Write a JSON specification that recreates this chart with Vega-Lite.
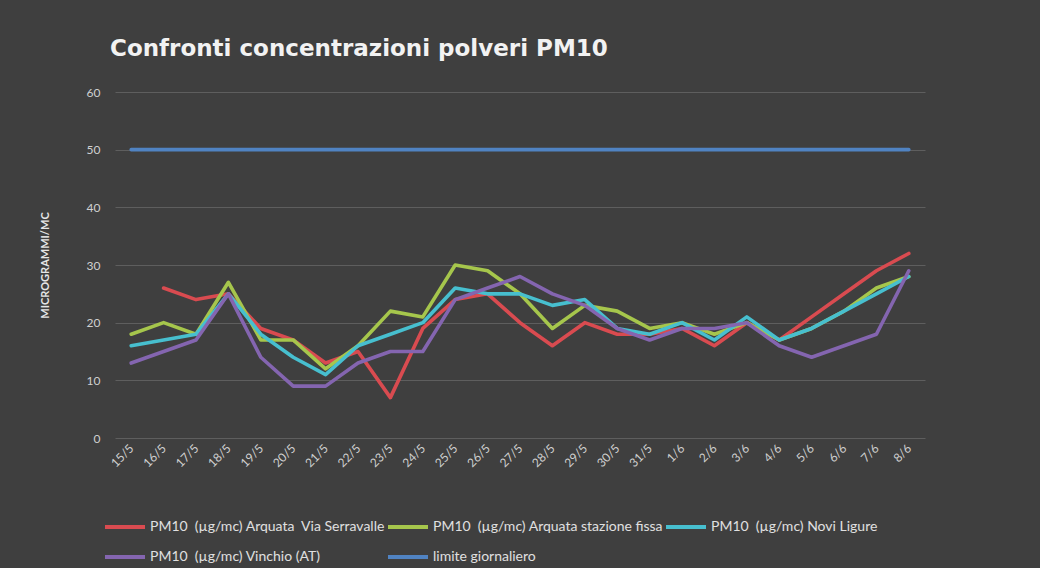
{
  "$schema": "https://vega.github.io/schema/vega-lite/v6.json",
  "autosize": {"type": "none"},
  "width": 810,
  "height": 346,
  "padding": {"left": 115, "top": 92, "right": 115, "bottom": 130},
  "background": "#3f3f3f",
  "config": {"view": {"stroke": null}},
  "title": {
    "text": "Confronti concentrazioni polveri PM10",
    "anchor": "start",
    "frame": "group",
    "dx": -5,
    "offset": 25,
    "font": "DejaVu Sans",
    "fontSize": 23,
    "fontWeight": "bold",
    "color": "#f2f2f2"
  },
  "datasets": {
    "pm": [
      {"d": "16/5", "s": "PM10\u00a0 (µg/mc) Arquata\u00a0 Via Serravalle", "v": 26},
      {"d": "17/5", "s": "PM10\u00a0 (µg/mc) Arquata\u00a0 Via Serravalle", "v": 24},
      {"d": "18/5", "s": "PM10\u00a0 (µg/mc) Arquata\u00a0 Via Serravalle", "v": 25},
      {"d": "19/5", "s": "PM10\u00a0 (µg/mc) Arquata\u00a0 Via Serravalle", "v": 19},
      {"d": "20/5", "s": "PM10\u00a0 (µg/mc) Arquata\u00a0 Via Serravalle", "v": 17},
      {"d": "21/5", "s": "PM10\u00a0 (µg/mc) Arquata\u00a0 Via Serravalle", "v": 13},
      {"d": "22/5", "s": "PM10\u00a0 (µg/mc) Arquata\u00a0 Via Serravalle", "v": 15},
      {"d": "23/5", "s": "PM10\u00a0 (µg/mc) Arquata\u00a0 Via Serravalle", "v": 7},
      {"d": "24/5", "s": "PM10\u00a0 (µg/mc) Arquata\u00a0 Via Serravalle", "v": 19},
      {"d": "25/5", "s": "PM10\u00a0 (µg/mc) Arquata\u00a0 Via Serravalle", "v": 24},
      {"d": "26/5", "s": "PM10\u00a0 (µg/mc) Arquata\u00a0 Via Serravalle", "v": 25},
      {"d": "27/5", "s": "PM10\u00a0 (µg/mc) Arquata\u00a0 Via Serravalle", "v": 20},
      {"d": "28/5", "s": "PM10\u00a0 (µg/mc) Arquata\u00a0 Via Serravalle", "v": 16},
      {"d": "29/5", "s": "PM10\u00a0 (µg/mc) Arquata\u00a0 Via Serravalle", "v": 20},
      {"d": "30/5", "s": "PM10\u00a0 (µg/mc) Arquata\u00a0 Via Serravalle", "v": 18},
      {"d": "31/5", "s": "PM10\u00a0 (µg/mc) Arquata\u00a0 Via Serravalle", "v": 18},
      {"d": "1/6", "s": "PM10\u00a0 (µg/mc) Arquata\u00a0 Via Serravalle", "v": 19},
      {"d": "2/6", "s": "PM10\u00a0 (µg/mc) Arquata\u00a0 Via Serravalle", "v": 16},
      {"d": "3/6", "s": "PM10\u00a0 (µg/mc) Arquata\u00a0 Via Serravalle", "v": 20},
      {"d": "4/6", "s": "PM10\u00a0 (µg/mc) Arquata\u00a0 Via Serravalle", "v": 17},
      {"d": "5/6", "s": "PM10\u00a0 (µg/mc) Arquata\u00a0 Via Serravalle", "v": 21},
      {"d": "6/6", "s": "PM10\u00a0 (µg/mc) Arquata\u00a0 Via Serravalle", "v": 25},
      {"d": "7/6", "s": "PM10\u00a0 (µg/mc) Arquata\u00a0 Via Serravalle", "v": 29},
      {"d": "8/6", "s": "PM10\u00a0 (µg/mc) Arquata\u00a0 Via Serravalle", "v": 32},

      {"d": "15/5", "s": "PM10\u00a0 (µg/mc) Arquata stazione fissa", "v": 18},
      {"d": "16/5", "s": "PM10\u00a0 (µg/mc) Arquata stazione fissa", "v": 20},
      {"d": "17/5", "s": "PM10\u00a0 (µg/mc) Arquata stazione fissa", "v": 18},
      {"d": "18/5", "s": "PM10\u00a0 (µg/mc) Arquata stazione fissa", "v": 27},
      {"d": "19/5", "s": "PM10\u00a0 (µg/mc) Arquata stazione fissa", "v": 17},
      {"d": "20/5", "s": "PM10\u00a0 (µg/mc) Arquata stazione fissa", "v": 17},
      {"d": "21/5", "s": "PM10\u00a0 (µg/mc) Arquata stazione fissa", "v": 12},
      {"d": "22/5", "s": "PM10\u00a0 (µg/mc) Arquata stazione fissa", "v": 16},
      {"d": "23/5", "s": "PM10\u00a0 (µg/mc) Arquata stazione fissa", "v": 22},
      {"d": "24/5", "s": "PM10\u00a0 (µg/mc) Arquata stazione fissa", "v": 21},
      {"d": "25/5", "s": "PM10\u00a0 (µg/mc) Arquata stazione fissa", "v": 30},
      {"d": "26/5", "s": "PM10\u00a0 (µg/mc) Arquata stazione fissa", "v": 29},
      {"d": "27/5", "s": "PM10\u00a0 (µg/mc) Arquata stazione fissa", "v": 25},
      {"d": "28/5", "s": "PM10\u00a0 (µg/mc) Arquata stazione fissa", "v": 19},
      {"d": "29/5", "s": "PM10\u00a0 (µg/mc) Arquata stazione fissa", "v": 23},
      {"d": "30/5", "s": "PM10\u00a0 (µg/mc) Arquata stazione fissa", "v": 22},
      {"d": "31/5", "s": "PM10\u00a0 (µg/mc) Arquata stazione fissa", "v": 19},
      {"d": "1/6", "s": "PM10\u00a0 (µg/mc) Arquata stazione fissa", "v": 20},
      {"d": "2/6", "s": "PM10\u00a0 (µg/mc) Arquata stazione fissa", "v": 18},
      {"d": "3/6", "s": "PM10\u00a0 (µg/mc) Arquata stazione fissa", "v": 20},
      {"d": "4/6", "s": "PM10\u00a0 (µg/mc) Arquata stazione fissa", "v": 17},
      {"d": "5/6", "s": "PM10\u00a0 (µg/mc) Arquata stazione fissa", "v": 19},
      {"d": "6/6", "s": "PM10\u00a0 (µg/mc) Arquata stazione fissa", "v": 22},
      {"d": "7/6", "s": "PM10\u00a0 (µg/mc) Arquata stazione fissa", "v": 26},
      {"d": "8/6", "s": "PM10\u00a0 (µg/mc) Arquata stazione fissa", "v": 28},

      {"d": "15/5", "s": "PM10\u00a0 (µg/mc) Novi Ligure", "v": 16},
      {"d": "16/5", "s": "PM10\u00a0 (µg/mc) Novi Ligure", "v": 17},
      {"d": "17/5", "s": "PM10\u00a0 (µg/mc) Novi Ligure", "v": 18},
      {"d": "18/5", "s": "PM10\u00a0 (µg/mc) Novi Ligure", "v": 25},
      {"d": "19/5", "s": "PM10\u00a0 (µg/mc) Novi Ligure", "v": 18},
      {"d": "20/5", "s": "PM10\u00a0 (µg/mc) Novi Ligure", "v": 14},
      {"d": "21/5", "s": "PM10\u00a0 (µg/mc) Novi Ligure", "v": 11},
      {"d": "22/5", "s": "PM10\u00a0 (µg/mc) Novi Ligure", "v": 16},
      {"d": "23/5", "s": "PM10\u00a0 (µg/mc) Novi Ligure", "v": 18},
      {"d": "24/5", "s": "PM10\u00a0 (µg/mc) Novi Ligure", "v": 20},
      {"d": "25/5", "s": "PM10\u00a0 (µg/mc) Novi Ligure", "v": 26},
      {"d": "26/5", "s": "PM10\u00a0 (µg/mc) Novi Ligure", "v": 25},
      {"d": "27/5", "s": "PM10\u00a0 (µg/mc) Novi Ligure", "v": 25},
      {"d": "28/5", "s": "PM10\u00a0 (µg/mc) Novi Ligure", "v": 23},
      {"d": "29/5", "s": "PM10\u00a0 (µg/mc) Novi Ligure", "v": 24},
      {"d": "30/5", "s": "PM10\u00a0 (µg/mc) Novi Ligure", "v": 19},
      {"d": "31/5", "s": "PM10\u00a0 (µg/mc) Novi Ligure", "v": 18},
      {"d": "1/6", "s": "PM10\u00a0 (µg/mc) Novi Ligure", "v": 20},
      {"d": "2/6", "s": "PM10\u00a0 (µg/mc) Novi Ligure", "v": 17},
      {"d": "3/6", "s": "PM10\u00a0 (µg/mc) Novi Ligure", "v": 21},
      {"d": "4/6", "s": "PM10\u00a0 (µg/mc) Novi Ligure", "v": 17},
      {"d": "5/6", "s": "PM10\u00a0 (µg/mc) Novi Ligure", "v": 19},
      {"d": "6/6", "s": "PM10\u00a0 (µg/mc) Novi Ligure", "v": 22},
      {"d": "7/6", "s": "PM10\u00a0 (µg/mc) Novi Ligure", "v": 25},
      {"d": "8/6", "s": "PM10\u00a0 (µg/mc) Novi Ligure", "v": 28},

      {"d": "15/5", "s": "PM10\u00a0 (µg/mc) Vinchio (AT)", "v": 13},
      {"d": "16/5", "s": "PM10\u00a0 (µg/mc) Vinchio (AT)", "v": 15},
      {"d": "17/5", "s": "PM10\u00a0 (µg/mc) Vinchio (AT)", "v": 17},
      {"d": "18/5", "s": "PM10\u00a0 (µg/mc) Vinchio (AT)", "v": 25},
      {"d": "19/5", "s": "PM10\u00a0 (µg/mc) Vinchio (AT)", "v": 14},
      {"d": "20/5", "s": "PM10\u00a0 (µg/mc) Vinchio (AT)", "v": 9},
      {"d": "21/5", "s": "PM10\u00a0 (µg/mc) Vinchio (AT)", "v": 9},
      {"d": "22/5", "s": "PM10\u00a0 (µg/mc) Vinchio (AT)", "v": 13},
      {"d": "23/5", "s": "PM10\u00a0 (µg/mc) Vinchio (AT)", "v": 15},
      {"d": "24/5", "s": "PM10\u00a0 (µg/mc) Vinchio (AT)", "v": 15},
      {"d": "25/5", "s": "PM10\u00a0 (µg/mc) Vinchio (AT)", "v": 24},
      {"d": "26/5", "s": "PM10\u00a0 (µg/mc) Vinchio (AT)", "v": 26},
      {"d": "27/5", "s": "PM10\u00a0 (µg/mc) Vinchio (AT)", "v": 28},
      {"d": "28/5", "s": "PM10\u00a0 (µg/mc) Vinchio (AT)", "v": 25},
      {"d": "29/5", "s": "PM10\u00a0 (µg/mc) Vinchio (AT)", "v": 23},
      {"d": "30/5", "s": "PM10\u00a0 (µg/mc) Vinchio (AT)", "v": 19},
      {"d": "31/5", "s": "PM10\u00a0 (µg/mc) Vinchio (AT)", "v": 17},
      {"d": "1/6", "s": "PM10\u00a0 (µg/mc) Vinchio (AT)", "v": 19},
      {"d": "2/6", "s": "PM10\u00a0 (µg/mc) Vinchio (AT)", "v": 19},
      {"d": "3/6", "s": "PM10\u00a0 (µg/mc) Vinchio (AT)", "v": 20},
      {"d": "4/6", "s": "PM10\u00a0 (µg/mc) Vinchio (AT)", "v": 16},
      {"d": "5/6", "s": "PM10\u00a0 (µg/mc) Vinchio (AT)", "v": 14},
      {"d": "6/6", "s": "PM10\u00a0 (µg/mc) Vinchio (AT)", "v": 16},
      {"d": "7/6", "s": "PM10\u00a0 (µg/mc) Vinchio (AT)", "v": 18},
      {"d": "8/6", "s": "PM10\u00a0 (µg/mc) Vinchio (AT)", "v": 29},

      {"d": "15/5", "s": "limite giornaliero", "v": 50},
      {"d": "16/5", "s": "limite giornaliero", "v": 50},
      {"d": "17/5", "s": "limite giornaliero", "v": 50},
      {"d": "18/5", "s": "limite giornaliero", "v": 50},
      {"d": "19/5", "s": "limite giornaliero", "v": 50},
      {"d": "20/5", "s": "limite giornaliero", "v": 50},
      {"d": "21/5", "s": "limite giornaliero", "v": 50},
      {"d": "22/5", "s": "limite giornaliero", "v": 50},
      {"d": "23/5", "s": "limite giornaliero", "v": 50},
      {"d": "24/5", "s": "limite giornaliero", "v": 50},
      {"d": "25/5", "s": "limite giornaliero", "v": 50},
      {"d": "26/5", "s": "limite giornaliero", "v": 50},
      {"d": "27/5", "s": "limite giornaliero", "v": 50},
      {"d": "28/5", "s": "limite giornaliero", "v": 50},
      {"d": "29/5", "s": "limite giornaliero", "v": 50},
      {"d": "30/5", "s": "limite giornaliero", "v": 50},
      {"d": "31/5", "s": "limite giornaliero", "v": 50},
      {"d": "1/6", "s": "limite giornaliero", "v": 50},
      {"d": "2/6", "s": "limite giornaliero", "v": 50},
      {"d": "3/6", "s": "limite giornaliero", "v": 50},
      {"d": "4/6", "s": "limite giornaliero", "v": 50},
      {"d": "5/6", "s": "limite giornaliero", "v": 50},
      {"d": "6/6", "s": "limite giornaliero", "v": 50},
      {"d": "7/6", "s": "limite giornaliero", "v": 50},
      {"d": "8/6", "s": "limite giornaliero", "v": 50}
    ]
  },
  "data": {"name": "pm"},
  "mark": {"type": "line", "strokeWidth": 3.6, "strokeJoin": "round", "strokeCap": "round"},
  "encoding": {
    "x": {
      "field": "d",
      "type": "ordinal",
      "scale": {
        "type": "point",
        "padding": 0.5,
        "domain": ["15/5","16/5","17/5","18/5","19/5","20/5","21/5","22/5","23/5","24/5","25/5","26/5","27/5","28/5","29/5","30/5","31/5","1/6","2/6","3/6","4/6","5/6","6/6","7/6","8/6"]
      },
      "axis": {
        "title": null,
        "labelAngle": -45,
        "labelAlign": "right",
        "labelBaseline": "middle",
        "labelPadding": 8,
        "labelColor": "#d0d0d0",
        "labelFont": "Lato",
        "labelFontSize": 12,
        "ticks": false,
        "domain": false,
        "grid": false
      }
    },
    "y": {
      "field": "v",
      "type": "quantitative",
      "scale": {"domain": [0, 60], "nice": false},
      "axis": {
        "title": "MICROGRAMMI/MC",
        "titleColor": "#e6e6e6",
        "titleFont": "Lato",
        "titleFontSize": 11,
        "titleFontWeight": "bold",
        "titlePadding": 36,
        "values": [0, 10, 20, 30, 40, 50, 60],
        "labelColor": "#d0d0d0",
        "labelFont": "Lato",
        "labelFontSize": 12,
        "labelPadding": 15,
        "ticks": false,
        "domain": false,
        "grid": true,
        "gridColor": "#5e5e5e",
        "gridWidth": 1.2
      }
    },
    "color": {
      "field": "s",
      "type": "nominal",
      "scale": {
        "domain": ["PM10\u00a0 (µg/mc) Arquata\u00a0 Via Serravalle", "PM10\u00a0 (µg/mc) Arquata stazione fissa", "PM10\u00a0 (µg/mc) Novi Ligure", "PM10\u00a0 (µg/mc) Vinchio (AT)", "limite giornaliero"],
        "range": ["#d94b50", "#a6c64c", "#47bfcf", "#8465b0", "#5083c2"]
      },
      "legend": {
        "title": null,
        "orient": "none",
        "direction": "horizontal",
        "legendX": -12,
        "legendY": 413,
        "columns": 3,
        "symbolType": "stroke",
        "symbolSize": 1600,
        "symbolStrokeWidth": 4,
        "labelColor": "#e0e0e0",
        "labelFont": "Lato",
        "labelFontSize": 14,
        "labelOffset": 3,
        "columnPadding": -7,
        "rowPadding": -9,
        "labelLimit": 400
      }
    }
  }
}
